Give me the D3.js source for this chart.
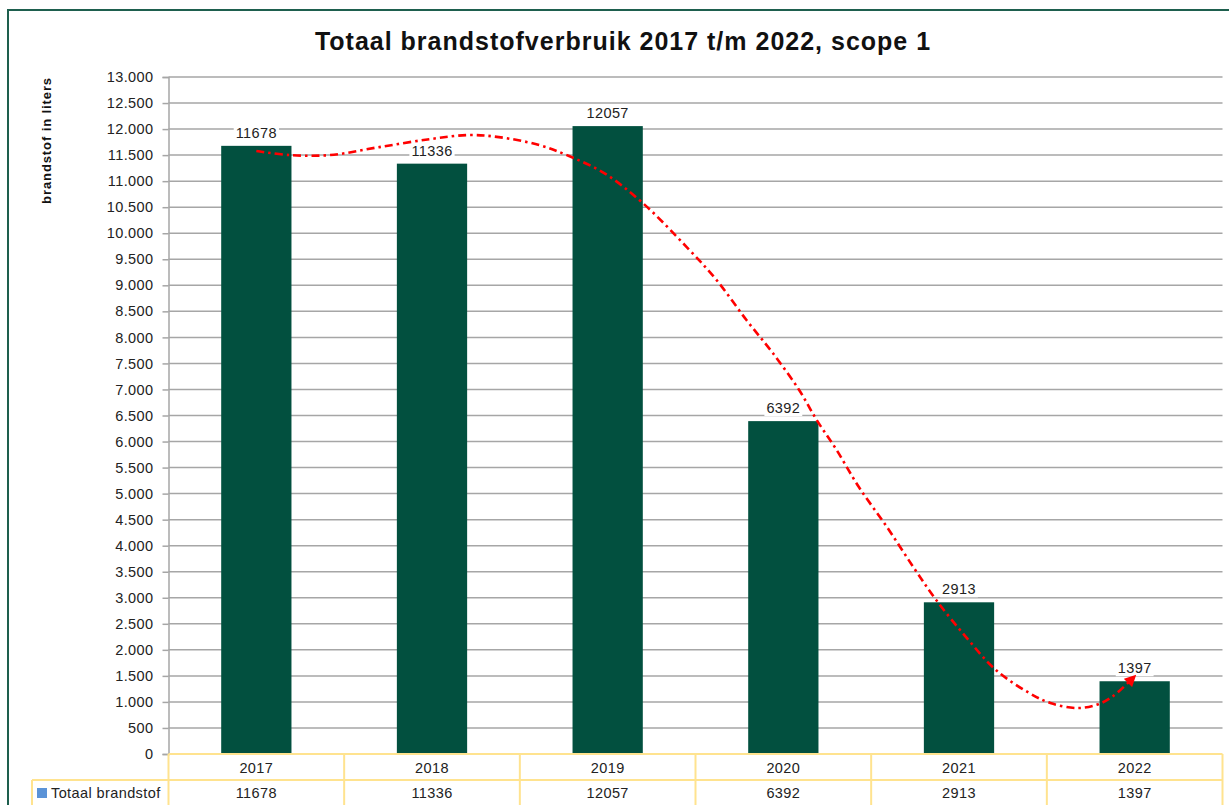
<!DOCTYPE html>
<html>
<head>
<meta charset="utf-8">
<script src="https://cdn.jsdelivr.net/npm/d3@7"></script>
<style>
  html, body { margin: 0; padding: 0; background: #fff; }
  svg { display: block; font-family: "Liberation Sans", Arial, sans-serif; }
</style>
</head>
<body>
<svg id="chart" width="1229" height="805"></svg>
<script>
// ---- data ----
const categories = ["2017", "2018", "2019", "2020", "2021", "2022"];
const values = [11678, 11336, 12057, 6392, 2913, 1397];
const seriesName = "Totaal brandstof";
const title = "Totaal brandstofverbruik 2017 t/m 2022, scope 1";
const yAxisTitle = "brandstof in liters";
const yTicks = d3.range(0, 13001, 500);
// trend line: position in category index (0 = 2017), value in liters
const trendPos = [0, 0.19, 0.42, 0.70, 0.99, 1.21, 1.38, 1.61, 1.78, 1.98, 2.20, 2.45, 2.62, 2.79, 2.94, 3.09, 3.19, 3.30, 3.43, 3.59, 3.74, 3.87, 4.04, 4.21, 4.40, 4.52, 4.67, 4.78, 4.87, 4.99];
const trendVal = [11578, 11501, 11501, 11654, 11808, 11885, 11846, 11693, 11482, 11155, 10579, 9734, 9101, 8333, 7699, 6989, 6413, 5856, 5126, 4358, 3590, 2957, 2246, 1613, 1171, 979, 883, 941, 1094, 1459];

// ---- layout ----
const svg = d3.select("#chart");
const plotL = 168.5, plotR = 1222.5, plotT = 77, plotB = 754;
const rowH1 = 780, rowH2 = 806;
const barColor = "#02503F";
const gridColor = "#A6A6A6";
const tableColor = "#FFE38F";
const txtSize = 14.5, txtSpacing = 0.4;

const x = d3.scaleBand().domain(categories).range([plotL, plotR]);
const y = d3.scaleLinear().domain([0, 13000]).range([plotB, plotT]);
const xt = d3.scaleLinear().domain([0, categories.length - 1])
  .range([x(categories[0]) + x.bandwidth() / 2, x(categories[categories.length - 1]) + x.bandwidth() / 2]);

// outer chart border (left + top)
svg.append("path")
  .attr("d", "M8,806 L8,10 L1229,10")
  .attr("fill", "none").attr("stroke", "#1E5F4E").attr("stroke-width", 2);

// title
svg.append("text")
  .attr("x", 623).attr("y", 50)
  .attr("text-anchor", "middle")
  .attr("font-size", 25).attr("font-weight", "bold").attr("fill", "#111")
  .attr("letter-spacing", 1)
  .text(title);

// y axis title
svg.append("text")
  .attr("transform", "translate(51,77) rotate(-90)")
  .attr("text-anchor", "end")
  .attr("font-size", 13).attr("font-weight", "bold").attr("fill", "#111")
  .attr("letter-spacing", 0.9)
  .text(yAxisTitle);

// gridlines
svg.append("g").selectAll("line")
  .data(yTicks.filter(d => d > 0))
  .join("line")
  .attr("x1", plotL).attr("x2", plotR)
  .attr("y1", d => y(d)).attr("y2", d => y(d))
  .attr("stroke", gridColor).attr("stroke-width", 1.5);

// y axis
const yAxis = svg.append("g")
  .attr("transform", `translate(${plotL},0)`)
  .call(d3.axisLeft(y).tickValues(yTicks).tickSize(6).tickPadding(9)
    .tickFormat(d => d === 0 ? "0" : d3.format(",")(d).replace(/,/g, ".") ));
yAxis.select(".domain").attr("stroke", gridColor).attr("stroke-width", 1.5);
yAxis.selectAll(".tick line").attr("stroke", gridColor).attr("stroke-width", 1.5);
yAxis.selectAll(".tick text").attr("font-size", txtSize).attr("fill", "#222")
  .attr("letter-spacing", txtSpacing)
  .attr("font-family", "Liberation Sans, Arial, sans-serif");

// bars
const barW = x.bandwidth() * 0.4;
svg.append("g").selectAll("rect")
  .data(values)
  .join("rect")
  .attr("x", (d, i) => x(categories[i]) + (x.bandwidth() - barW) / 2)
  .attr("width", barW)
  .attr("y", d => y(d))
  .attr("height", d => plotB - y(d))
  .attr("fill", barColor);

// data labels with white background
const lbl = svg.append("g").selectAll("g")
  .data(values)
  .join("g");
lbl.append("text")
  .attr("x", (d, i) => x(categories[i]) + x.bandwidth() / 2)
  .attr("y", d => y(d) - 8)
  .attr("text-anchor", "middle")
  .attr("font-size", txtSize).attr("fill", "#222")
  .attr("letter-spacing", txtSpacing)
  .text(d => d);
lbl.each(function () {
  const g = d3.select(this);
  const bb = g.select("text").node().getBBox();
  g.insert("rect", "text")
    .attr("x", bb.x - 2).attr("y", bb.y).attr("width", bb.width + 4).attr("height", bb.height)
    .attr("fill", "#fff");
});

// trend line
const defs = svg.append("defs");
defs.append("marker")
  .attr("id", "arrow").attr("viewBox", "0 0 10 10")
  .attr("refX", 6).attr("refY", 5)
  .attr("markerWidth", 4.5).attr("markerHeight", 4.5)
  .attr("orient", "auto")
  .append("path").attr("d", "M0,0 L10,5 L0,10 Z").attr("fill", "#FF0000");

const trendData = trendPos.map((p, i) => [p, trendVal[i]]);
svg.append("path")
  .datum(trendData)
  .attr("d", d3.line().x(d => xt(d[0])).y(d => y(d[1])).curve(d3.curveCatmullRom))
  .attr("fill", "none")
  .attr("stroke", "#FF0000").attr("stroke-width", 2.6)
  .attr("stroke-dasharray", "8,4,2.5,4")
  .attr("marker-end", "url(#arrow)");

// data table
const tbl = svg.append("g").attr("stroke", tableColor).attr("stroke-width", 2);
tbl.append("line").attr("x1", plotL).attr("x2", plotR).attr("y1", plotB).attr("y2", plotB);
tbl.append("line").attr("x1", 32).attr("x2", plotR).attr("y1", rowH1).attr("y2", rowH1);
tbl.append("line").attr("x1", 32).attr("x2", 32).attr("y1", rowH1).attr("y2", rowH2);
const bounds = categories.map(c => x(c)).concat([plotR]);
tbl.selectAll("line.v").data(bounds).join("line").attr("class", "v")
  .attr("x1", d => d).attr("x2", d => d)
  .attr("y1", plotB).attr("y2", rowH2);

svg.append("g").selectAll("text")
  .data(categories)
  .join("text")
  .attr("x", d => x(d) + x.bandwidth() / 2)
  .attr("y", 773)
  .attr("text-anchor", "middle")
  .attr("font-size", txtSize).attr("fill", "#222")
  .attr("letter-spacing", txtSpacing)
  .text(d => d);

svg.append("g").selectAll("text")
  .data(values)
  .join("text")
  .attr("x", (d, i) => x(categories[i]) + x.bandwidth() / 2)
  .attr("y", 798)
  .attr("text-anchor", "middle")
  .attr("font-size", txtSize).attr("fill", "#222")
  .attr("letter-spacing", txtSpacing)
  .text(d => d);

// legend key in table
svg.append("rect").attr("x", 37).attr("y", 788).attr("width", 10).attr("height", 10).attr("fill", "#5B93D7");
svg.append("text").attr("x", 51).attr("y", 798)
  .attr("font-size", txtSize).attr("fill", "#222")
  .attr("letter-spacing", txtSpacing)
  .text(seriesName);
</script>
</body>
</html>
